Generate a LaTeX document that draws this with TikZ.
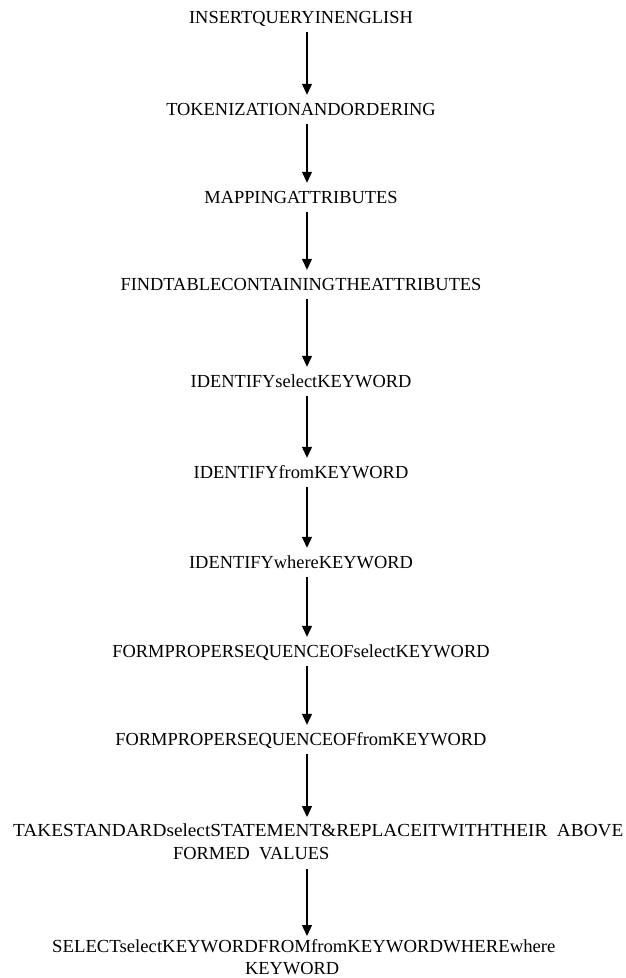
\documentclass[tikz,border=0pt]{standalone}
\usepackage{graphicx}
\usepackage{fontspec}
\setmainfont{Liberation Serif}
\usetikzlibrary{arrows.meta}
\tikzset{
    stage/.style={inner sep=0, text height=13pt, text depth=0pt, anchor=base, font=\fontsize{18.4}{24}\selectfont},
    longstage/.style={inner sep=0, anchor=north west, align=left, font=\fontsize{18.4}{22.5}\selectfont},
    flow/.style={-{Triangle[width=10pt,length=11pt]}, line width=1.2pt, shorten <=9pt, shorten >=7pt}
}

\begin{document}
\begin{tikzpicture}[x=1pt,y=-1pt]
    \useasboundingbox (0,0) rectangle (626,978);
    \coordinate (spine) at (307,0);
    \node[stage] (query)  at (301,23)  {INSERTQUERYINENGLISH};
    \node[stage] (token)  at (301,115) {TOKENIZATIONANDORDERING};
    \node[stage] (attr)   at (301,203) {MAPPINGATTRIBUTES};
    \node[stage] (table)  at (301,290) {FINDTABLECONTAININGTHEATTRIBUTES};
    \node[stage] (idsel)  at (301,387) {IDENTIFYselectKEYWORD};
    \node[stage] (idfrom) at (301,478) {IDENTIFYfromKEYWORD};
    \node[stage] (idwhr)  at (301,568) {IDENTIFYwhereKEYWORD};
    \node[stage] (seqsel) at (301,657) {FORMPROPERSEQUENCEOFselectKEYWORD};
    \node[stage] (seqfrm) at (301,745) {FORMPROPERSEQUENCEOFfromKEYWORD};
    \node[longstage] (take) at (13,824)
        {\scalebox{1.048}[1]{TAKESTANDARDselectSTATEMENT\&REPLACEITWITHTHEIR\ \ ABOVE}\\
         \hspace*{160pt}FORMED\ \ VALUES};
    \node[longstage] (final) at (52,939)
        {\scalebox{1.018}[1]{SELECTselectKEYWORDFROMfromKEYWORDWHEREwhere}\\
         \hspace*{193pt}KEYWORD};
    \foreach \a/\b in {query/token, token/attr, attr/table, table/idsel,
        idsel/idfrom, idfrom/idwhr, idwhr/seqsel, seqsel/seqfrm, seqfrm/take}
        \draw[flow] (\a.south -| spine) -- (\b.north -| spine);
    \draw[flow, shorten >=3pt] (take.south -| spine) -- (final.north -| spine);
\end{tikzpicture}
\end{document}
